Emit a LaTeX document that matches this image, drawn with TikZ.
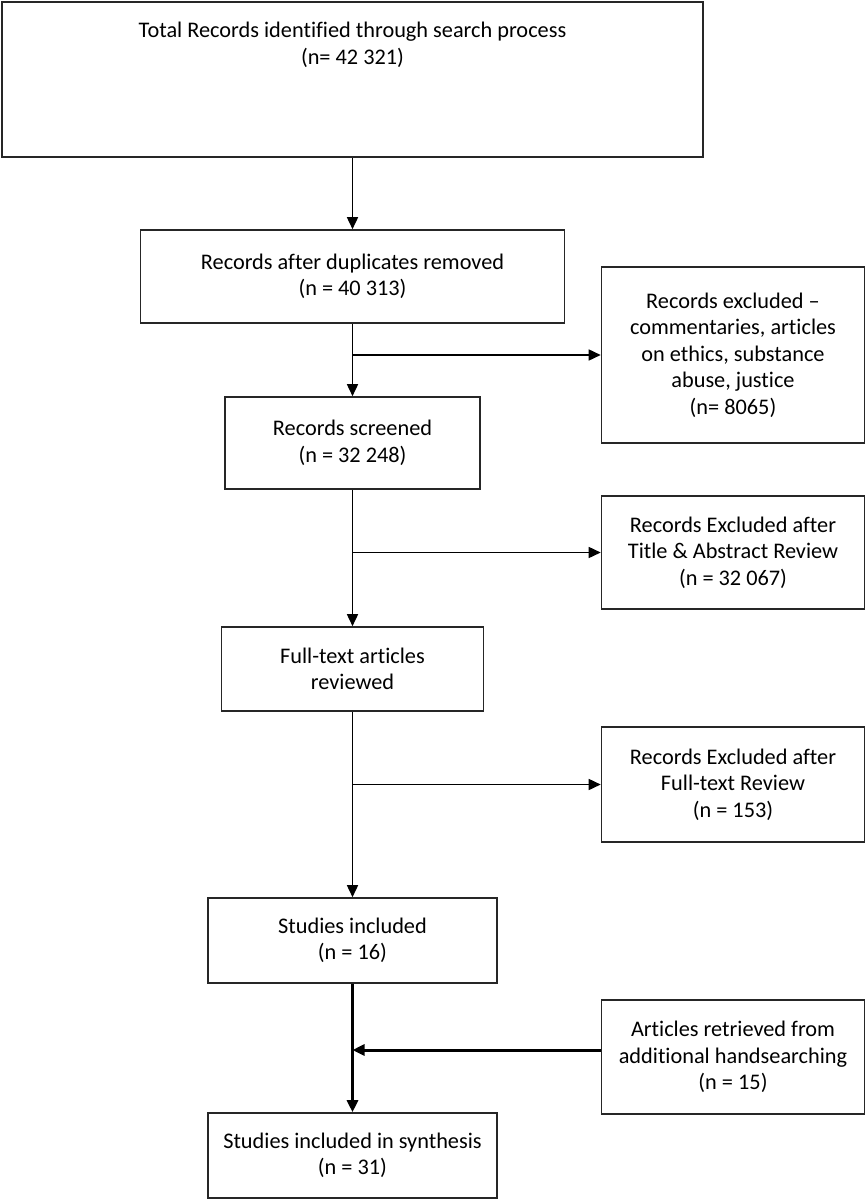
\documentclass[tikz,border=0pt]{standalone}
\usepackage{fontspec}
\setmainfont{Carlito}[Ligatures = {TeX, NoCommon}]
\usetikzlibrary{positioning,arrows.meta}

\begin{document}
\begin{tikzpicture}[x = 1pt, y = -1pt, node distance = 100pt and 100pt, on grid,
                    every node/.style = {font = \fontsize{22.3}{26.5}\selectfont},
                    box/.style = {rectangle,
                                  draw = black!85,
                                  line width = 1.6pt,
                                  align = center,
                                  inner sep = 0pt},
                    flow/.style = {-{Triangle[length = 12pt, width = 11pt]},
                                   line width = 1.6pt},
                    thickflow/.style = {flow, line width = 3pt}]

\useasboundingbox (0,0) rectangle (867,1201);

% main column
\node[box, minimum width = 701pt, minimum height = 155pt,
      label = {[align = center, anchor = north, yshift = -17.5pt]north:Total Records identified through search process\\(n= 42 321)}]
      (total) at (352.5,79.5) {};
\node[box, minimum width = 424pt, minimum height = 93pt] (dup) [below = 197pt of total]
      {Records after duplicates removed\\(n = 40 313)};
\node[box, minimum width = 255pt, minimum height = 92pt] (screened) [below = 166.5pt of dup]
      {Records screened\\(n = 32 248)};
\node[box, minimum width = 262pt, minimum height = 84pt] (fulltext) [below = 226pt of screened]
      {Full-text articles\\reviewed};
\node[box, minimum width = 289pt, minimum height = 85pt] (included) [below = 271.5pt of fulltext]
      {Studies included\\(n = 16)};
\node[box, minimum width = 289pt, minimum height = 85pt] (synthesis) [below = 215pt of included]
      {Studies included in synthesis\\(n = 31)};

% exclusions and extra records
\node[box, minimum width = 263pt, minimum height = 176pt] (excl1) [below right = 78.5pt and 380.5pt of dup]
      {Records excluded –\\commentaries, articles\\on ethics, substance\\abuse, justice\\(n= 8065)};
\node[box, minimum width = 263pt, minimum height = 113pt] (excl2) [below = 197.5pt of excl1]
      {Records Excluded after\\Title \& Abstract Review\\(n = 32 067)};
\node[box, minimum width = 263pt, minimum height = 115pt] (excl3) [below = 232pt of excl2]
      {Records Excluded after\\Full-text Review\\(n = 153)};
\node[box, minimum width = 263pt, minimum height = 114pt] (extra) [below = 272.5pt of excl3]
      {Articles retrieved from\\additional handsearching\\(n = 15)};

\draw[flow] (total) -- (dup);
\draw[flow] (dup) -- (screened);
\draw[flow] (dup.south |- excl1.west) -- (excl1.west);
\draw[flow] (screened) -- (fulltext);
\draw[flow] (screened.south |- excl2.west) -- (excl2.west);
\draw[flow] (fulltext) -- (included);
\draw[flow] (fulltext.south |- excl3.west) -- (excl3.west);
\draw[thickflow] (included) -- (synthesis);
\draw[thickflow] ([yshift = 7pt]extra.west) -- ([yshift = 7pt]extra.west -| included.south);

\end{tikzpicture}
\end{document}
